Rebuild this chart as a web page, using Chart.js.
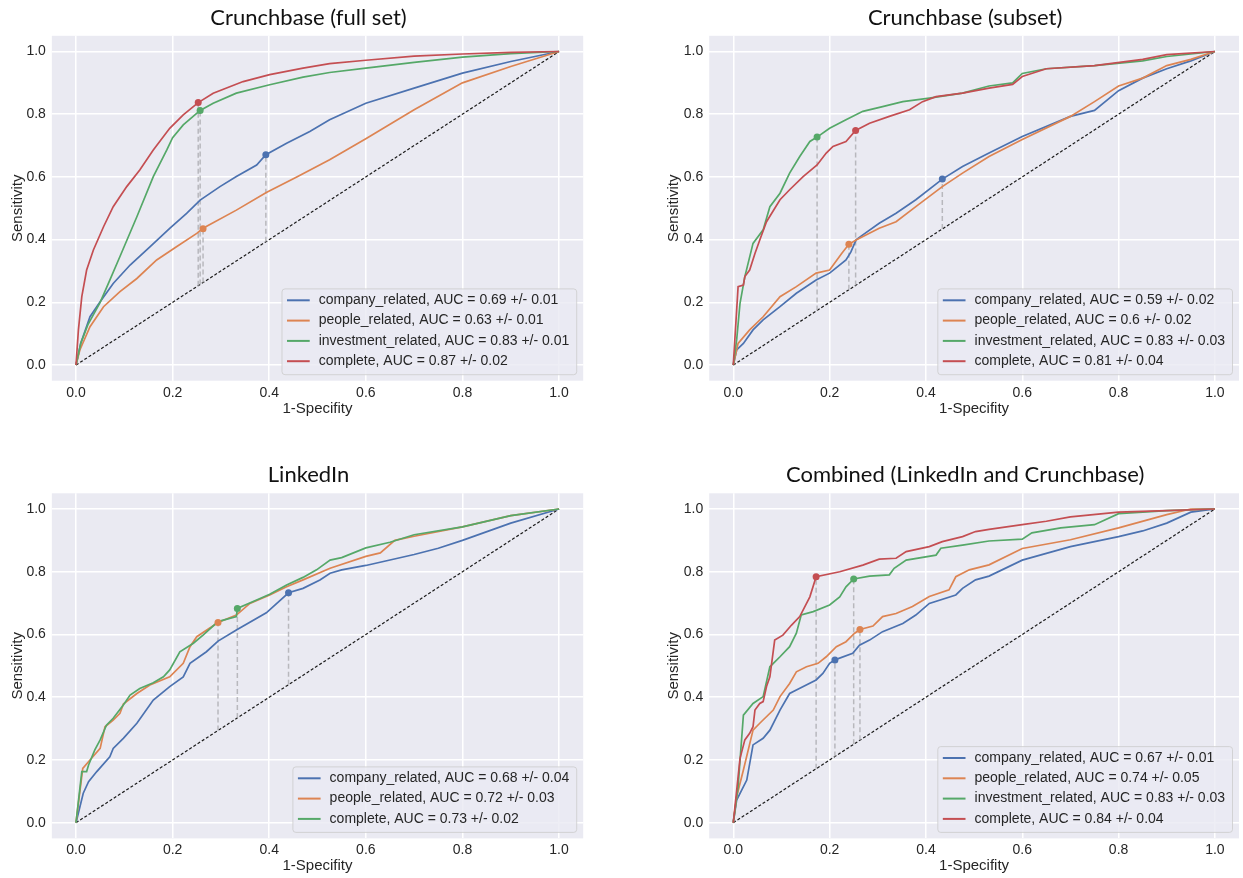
<!DOCTYPE html>
<html>
<head>
<meta charset="utf-8">
<title>ROC curves</title>
<script src="https://cdn.jsdelivr.net/npm/chart.js@4/dist/chart.umd.min.js"></script>
<style>
  body { margin: 0; background: #fff; }
  #wrap { position: relative; width: 1243px; height: 878px; }
  #wrap canvas { position: absolute; }
</style>
</head>
<body>
<div id="wrap">
  <canvas id="cb-full" width="621" height="440" style="left:0;top:0"></canvas>
  <canvas id="cb-subset" width="622" height="440" style="left:621px;top:0"></canvas>
  <canvas id="linkedin" width="621" height="438" style="left:0;top:440px"></canvas>
  <canvas id="combined" width="622" height="438" style="left:621px;top:440px"></canvas>
</div>
<script>
// Axis ticks shared by every panel
const TICKS = [0, 0.2, 0.4, 0.6, 0.8, 1.0];
const DIAGONAL = [[0, 0], [1, 1]];

// ---- Crunchbase (full set) ----  points are [1-specificity, sensitivity]
const cbFullTitle = 'Crunchbase (full set)';
const cbFullCompany = [[0,0],[0.01,0.07],[0.029,0.154],[0.05,0.202],[0.077,0.26],[0.112,0.319],[0.153,0.377],[0.194,0.436],[0.229,0.484],[0.257,0.526],[0.298,0.569],[0.332,0.601],[0.374,0.638],[0.393,0.671],[0.436,0.707],[0.484,0.745],[0.525,0.782],[0.6,0.835],[0.7,0.883],[0.8,0.931],[0.9,0.968],[1,1]];
const cbFullPeople = [[0,0],[0.008,0.048],[0.029,0.122],[0.057,0.186],[0.091,0.234],[0.126,0.276],[0.167,0.335],[0.208,0.377],[0.25,0.42],[0.263,0.436],[0.332,0.494],[0.394,0.55],[0.457,0.6],[0.525,0.655],[0.6,0.722],[0.7,0.814],[0.8,0.9],[0.9,0.952],[1,1]];
const cbFullInvestment = [[0,0],[0.01,0.07],[0.025,0.13],[0.05,0.2],[0.07,0.271],[0.091,0.346],[0.126,0.473],[0.16,0.601],[0.188,0.686],[0.2,0.725],[0.222,0.766],[0.257,0.812],[0.284,0.835],[0.332,0.867],[0.401,0.894],[0.47,0.918],[0.525,0.933],[0.6,0.947],[0.7,0.965],[0.8,0.982],[0.9,0.993],[1,1]];
const cbFullComplete = [[0,0],[0.005,0.112],[0.012,0.218],[0.022,0.303],[0.036,0.367],[0.057,0.441],[0.077,0.505],[0.105,0.569],[0.132,0.622],[0.16,0.686],[0.194,0.755],[0.222,0.798],[0.253,0.837],[0.284,0.867],[0.346,0.904],[0.401,0.926],[0.47,0.947],[0.525,0.961],[0.6,0.972],[0.7,0.985],[0.8,0.992],[0.9,0.997],[1,1]];
const cbFullAuc = ['0.69 +/- 0.01', '0.63 +/- 0.01', '0.83 +/- 0.01', '0.87 +/- 0.02'];
const cbFullCutoffs = [[0.393,0.671],[0.263,0.435],[0.257,0.812],[0.253,0.837]];

// ---- Crunchbase (subset) ----
const cbSubTitle = 'Crunchbase (subset)';
const cbSubCompany = [[0,0],[0.007,0.048],[0.021,0.069],[0.041,0.112],[0.062,0.144],[0.097,0.186],[0.131,0.229],[0.172,0.271],[0.2,0.293],[0.234,0.335],[0.244,0.36],[0.255,0.399],[0.269,0.415],[0.303,0.452],[0.338,0.484],[0.379,0.527],[0.434,0.593],[0.476,0.633],[0.531,0.676],[0.6,0.729],[0.7,0.793],[0.75,0.812],[0.8,0.875],[0.85,0.915],[0.9,0.945],[0.95,0.97],[1,1]];
const cbSubPeople = [[0,0],[0.01,0.069],[0.034,0.112],[0.062,0.154],[0.097,0.218],[0.131,0.25],[0.172,0.293],[0.2,0.303],[0.225,0.356],[0.24,0.385],[0.255,0.399],[0.303,0.436],[0.338,0.457],[0.379,0.505],[0.434,0.569],[0.476,0.612],[0.531,0.665],[0.6,0.719],[0.7,0.793],[0.75,0.84],[0.8,0.89],[0.85,0.915],[0.9,0.955],[0.95,0.975],[1,1]];
const cbSubInvestment = [[0,0],[0.007,0.08],[0.014,0.197],[0.024,0.282],[0.041,0.388],[0.062,0.431],[0.076,0.505],[0.097,0.548],[0.117,0.612],[0.138,0.665],[0.159,0.713],[0.174,0.727],[0.2,0.755],[0.234,0.782],[0.269,0.809],[0.31,0.824],[0.352,0.84],[0.407,0.851],[0.476,0.867],[0.531,0.89],[0.58,0.9],[0.6,0.93],[0.65,0.945],[0.75,0.955],[0.85,0.97],[0.9,0.984],[1,1]];
const cbSubComplete = [[0,0],[0.01,0.25],[0.021,0.255],[0.024,0.282],[0.034,0.303],[0.045,0.356],[0.055,0.399],[0.069,0.457],[0.097,0.527],[0.117,0.559],[0.145,0.601],[0.174,0.638],[0.193,0.676],[0.207,0.697],[0.234,0.713],[0.254,0.748],[0.283,0.771],[0.324,0.793],[0.366,0.814],[0.393,0.84],[0.421,0.856],[0.476,0.867],[0.531,0.883],[0.58,0.895],[0.6,0.92],[0.65,0.945],[0.75,0.955],[0.85,0.975],[0.9,0.99],[1,1]];
const cbSubAuc = ['0.59 +/- 0.02', '0.6 +/- 0.02', '0.83 +/- 0.03', '0.81 +/- 0.04'];
const cbSubCutoffs = [[0.434,0.593],[0.24,0.385],[0.174,0.727],[0.254,0.748]];

// ---- LinkedIn ----
const liTitle = 'LinkedIn';
const liCompany = [[0,0],[0.015,0.094],[0.026,0.131],[0.043,0.163],[0.07,0.21],[0.077,0.237],[0.098,0.269],[0.126,0.317],[0.16,0.391],[0.194,0.434],[0.222,0.465],[0.236,0.508],[0.27,0.545],[0.294,0.579],[0.332,0.614],[0.394,0.669],[0.44,0.733],[0.47,0.747],[0.505,0.774],[0.526,0.795],[0.55,0.806],[0.6,0.82],[0.7,0.855],[0.75,0.875],[0.8,0.9],[0.9,0.955],[1,1]];
const liPeople = [[0,0],[0.014,0.173],[0.029,0.2],[0.05,0.237],[0.06,0.306],[0.077,0.327],[0.091,0.349],[0.098,0.378],[0.126,0.412],[0.153,0.439],[0.194,0.465],[0.222,0.508],[0.236,0.561],[0.25,0.593],[0.294,0.638],[0.332,0.662],[0.36,0.699],[0.401,0.726],[0.436,0.752],[0.47,0.774],[0.526,0.811],[0.6,0.849],[0.63,0.86],[0.66,0.9],[0.7,0.913],[0.8,0.943],[0.9,0.979],[1,1]];
const liComplete = [[0,0],[0.012,0.163],[0.022,0.163],[0.026,0.184],[0.039,0.232],[0.05,0.264],[0.063,0.311],[0.077,0.333],[0.098,0.375],[0.112,0.407],[0.132,0.428],[0.16,0.446],[0.181,0.465],[0.194,0.487],[0.215,0.545],[0.243,0.572],[0.263,0.598],[0.294,0.641],[0.332,0.657],[0.334,0.683],[0.374,0.71],[0.401,0.728],[0.436,0.758],[0.47,0.782],[0.498,0.806],[0.526,0.837],[0.55,0.845],[0.6,0.876],[0.65,0.894],[0.7,0.918],[0.8,0.943],[0.9,0.979],[1,1]];
const liAuc = ['0.68 +/- 0.04', '0.72 +/- 0.03', '0.73 +/- 0.02'];
const liCutoffs = [[0.44,0.733],[0.294,0.638],[0.334,0.683]];

// ---- Combined (LinkedIn and Crunchbase) ----
const combTitle = 'Combined (LinkedIn and Crunchbase)';
const combCompany = [[0,0],[0.007,0.072],[0.028,0.136],[0.041,0.248],[0.062,0.269],[0.076,0.295],[0.097,0.359],[0.117,0.412],[0.131,0.423],[0.172,0.455],[0.186,0.476],[0.2,0.508],[0.211,0.519],[0.248,0.54],[0.262,0.566],[0.283,0.582],[0.31,0.609],[0.352,0.635],[0.379,0.662],[0.407,0.699],[0.462,0.726],[0.476,0.747],[0.503,0.774],[0.531,0.786],[0.6,0.837],[0.7,0.88],[0.8,0.912],[0.85,0.93],[0.9,0.955],[0.95,0.99],[1,1]];
const combPeople = [[0,0],[0.007,0.083],[0.021,0.168],[0.041,0.295],[0.055,0.317],[0.083,0.359],[0.097,0.402],[0.117,0.444],[0.131,0.481],[0.152,0.497],[0.176,0.508],[0.193,0.529],[0.214,0.561],[0.234,0.577],[0.252,0.604],[0.263,0.616],[0.29,0.627],[0.31,0.657],[0.338,0.667],[0.372,0.689],[0.407,0.721],[0.448,0.742],[0.462,0.784],[0.49,0.806],[0.531,0.822],[0.6,0.874],[0.7,0.902],[0.8,0.94],[0.9,0.982],[0.95,1],[1,1]];
const combInvestment = [[0,0],[0.01,0.115],[0.021,0.343],[0.041,0.38],[0.062,0.402],[0.076,0.497],[0.097,0.529],[0.117,0.561],[0.131,0.604],[0.141,0.662],[0.166,0.673],[0.2,0.694],[0.221,0.72],[0.234,0.752],[0.25,0.777],[0.283,0.786],[0.324,0.79],[0.334,0.811],[0.359,0.837],[0.421,0.853],[0.431,0.875],[0.476,0.885],[0.531,0.898],[0.6,0.904],[0.62,0.924],[0.68,0.94],[0.75,0.95],[0.8,0.985],[0.9,0.995],[1,1]];
const combComplete = [[0,0],[0.014,0.205],[0.024,0.264],[0.034,0.285],[0.041,0.306],[0.045,0.359],[0.055,0.38],[0.062,0.386],[0.069,0.434],[0.076,0.465],[0.086,0.582],[0.103,0.598],[0.121,0.63],[0.138,0.657],[0.159,0.72],[0.172,0.784],[0.221,0.8],[0.269,0.821],[0.303,0.84],[0.338,0.843],[0.359,0.864],[0.407,0.88],[0.434,0.896],[0.476,0.912],[0.503,0.928],[0.531,0.935],[0.6,0.95],[0.65,0.961],[0.7,0.975],[0.8,0.99],[0.9,0.995],[1,1]];
const combAuc = ['0.67 +/- 0.01', '0.74 +/- 0.05', '0.83 +/- 0.03', '0.84 +/- 0.04'];
const combCutoffs = [[0.211,0.519],[0.263,0.616],[0.25,0.777],[0.172,0.784]];

// seaborn "deep" palette
const BLUE = '#4c72b0', ORANGE = '#dd8452', GREEN = '#55a868', RED = '#c44e52';
const TEXT = '#262626';
const TICK_FONT = { family: '"Liberation Sans", Arial, sans-serif', size: 14 };
const LABEL_FONT = { family: '"Liberation Sans", Arial, sans-serif', size: 15 };

const xy = pts => pts.map(([x, y]) => ({ x, y }));

// Draws plot background, panel title and the in-axes legend box
const panelDecor = {
  id: 'panelDecor',
  beforeDraw(chart) {
    const { ctx, chartArea: a } = chart;
    ctx.save();
    ctx.fillStyle = '#eaeaf2';
    ctx.fillRect(a.left, a.top, a.right - a.left, a.bottom - a.top);
    ctx.restore();
  },
  afterDraw(chart, args, opts) {
    const { ctx, chartArea: a } = chart;
    ctx.save();
    ctx.font = '22px Lato, "Open Sans", sans-serif';
    ctx.fillStyle = '#111';
    ctx.textAlign = 'center';
    ctx.textBaseline = 'middle';
    ctx.fillText(opts.title, (a.left + a.right) / 2 - 9, opts.titleY);

    const items = chart.data.datasets.filter(d => d.inLegend);
    ctx.font = '14px "Liberation Sans", Arial, sans-serif';
    const textW = Math.max(...items.map(d => ctx.measureText(d.label).width));
    const rowH = 20.3;
    const boxW = 36.7 + textW + 7.4;
    const boxH = 11.4 + (items.length - 1) * rowH + 13.5;
    const right = a.right - 6.5, bottom = a.bottom - 6;
    const left = right - boxW, top = bottom - boxH;
    ctx.beginPath();
    ctx.roundRect(left, top, boxW, boxH, 3);
    ctx.fillStyle = 'rgba(234,234,242,0.8)';
    ctx.fill();
    ctx.strokeStyle = 'rgba(204,204,204,0.8)';
    ctx.lineWidth = 1;
    ctx.stroke();
    ctx.textAlign = 'left';
    items.forEach((d, i) => {
      const y = top + 11.4 + i * rowH;
      ctx.strokeStyle = d.borderColor;
      ctx.lineWidth = 2;
      ctx.beginPath();
      ctx.moveTo(left + 5, y);
      ctx.lineTo(left + 27.7, y);
      ctx.stroke();
      ctx.fillStyle = TEXT;
      ctx.fillText(d.label, left + 36.7, y);
    });
    ctx.restore();
  },
};

function axis(title, fitSize, isX, tickPad, titlePad) {
  return {
    type: 'linear',
    min: -0.05,
    max: 1.05,
    afterBuildTicks: s => { s.ticks = TICKS.map(v => ({ value: v })); },
    afterFit: s => { if (isX) s.height = fitSize; else s.width = fitSize; },
    ticks: {
      callback: v => v.toFixed(1),
      font: TICK_FONT,
      color: TEXT,
      padding: tickPad,
      autoSkip: false,
      maxRotation: 0,
    },
    grid: { color: '#ffffff', lineWidth: 1.5, drawTicks: false },
    border: { display: false },
    title: {
      display: true,
      text: title,
      font: LABEL_FONT,
      color: TEXT,
      padding: isX ? { top: 0, bottom: titlePad } : { top: titlePad, bottom: 0 },
    },
  };
}

function makePanel(id, geo, title, curves, cutoffs) {
  const datasets = [];
  const n = curves.length;
  curves.forEach((c, i) => {
    const [t, s] = cutoffs[i];
    datasets.push({
      label: c.label, data: xy(c.points), inLegend: true,
      showLine: true, borderColor: c.color, borderWidth: 1.7,
      pointRadius: 0, fill: false, order: 1 + (n - 1 - i) * 0.1,
    });
    // dashed drop from the chosen cut-off down to the chance line
    datasets.push({
      data: xy([[t, t], [t, s]]), showLine: true,
      borderColor: 'rgba(175,175,180,0.85)', borderWidth: 1.5, borderDash: [5, 3],
      pointRadius: 0, order: 2,
    });
    datasets.push({
      data: xy([[t, s]]), pointRadius: 3.5, pointBackgroundColor: c.color,
      pointBorderColor: c.color, pointBorderWidth: 0, order: 0,
    });
  });
  datasets.push({
    data: xy(DIAGONAL), showLine: true, borderColor: '#1a1a1a',
    borderWidth: 1.2, borderDash: [3, 2], pointRadius: 0, order: 3,
  });

  new Chart(document.getElementById(id), {
    type: 'scatter',
    data: { datasets },
    options: {
      responsive: false,
      animation: false,
      events: [],
      layout: { padding: geo.padding },
      plugins: {
        legend: { display: false },
        tooltip: { enabled: false },
        panelDecor: { title, titleY: geo.titleY },
      },
      scales: {
        x: axis('1-Specifity', geo.xHeight, true, geo.xTickPad, geo.xTitlePad),
        y: axis('Sensitivity', geo.yWidth, false, 6, 9),
      },
    },
    plugins: [panelDecor],
  });
}

const names = ['company_related', 'people_related', 'investment_related', 'complete'];
const lbl = (name, auc) => `${name}, AUC = ${auc}`;

const topGeoL = { padding: { left: 0, top: 35.8, right: 37.8, bottom: 0 }, yWidth: 51.85, xHeight: 59.3, xTickPad: 4, xTitlePad: 22, titleY: 18.3 };
const topGeoR = { padding: { left: 35, top: 35.8, right: 2.5, bottom: 0 }, yWidth: 53.2, xHeight: 59.3, xTickPad: 4, xTitlePad: 22, titleY: 18 };
const botGeoL = { padding: { left: 0, top: 53.3, right: 37.8, bottom: 0 }, yWidth: 51.85, xHeight: 39.6, xTickPad: 3.2, xTitlePad: 3, titleY: 35 };
const botGeoR = { padding: { left: 35, top: 53.3, right: 2.5, bottom: 0 }, yWidth: 53.2, xHeight: 39.6, xTickPad: 3.2, xTitlePad: 3, titleY: 35 };

makePanel('cb-full', topGeoL, cbFullTitle, [
  { label: lbl(names[0], cbFullAuc[0]), points: cbFullCompany, color: BLUE },
  { label: lbl(names[1], cbFullAuc[1]), points: cbFullPeople, color: ORANGE },
  { label: lbl(names[2], cbFullAuc[2]), points: cbFullInvestment, color: GREEN },
  { label: lbl(names[3], cbFullAuc[3]), points: cbFullComplete, color: RED },
], cbFullCutoffs);

makePanel('cb-subset', topGeoR, cbSubTitle, [
  { label: lbl(names[0], cbSubAuc[0]), points: cbSubCompany, color: BLUE },
  { label: lbl(names[1], cbSubAuc[1]), points: cbSubPeople, color: ORANGE },
  { label: lbl(names[2], cbSubAuc[2]), points: cbSubInvestment, color: GREEN },
  { label: lbl(names[3], cbSubAuc[3]), points: cbSubComplete, color: RED },
], cbSubCutoffs);

makePanel('linkedin', botGeoL, liTitle, [
  { label: lbl(names[0], liAuc[0]), points: liCompany, color: BLUE },
  { label: lbl(names[1], liAuc[1]), points: liPeople, color: ORANGE },
  { label: lbl(names[3], liAuc[2]), points: liComplete, color: GREEN },
], liCutoffs);

makePanel('combined', botGeoR, combTitle, [
  { label: lbl(names[0], combAuc[0]), points: combCompany, color: BLUE },
  { label: lbl(names[1], combAuc[1]), points: combPeople, color: ORANGE },
  { label: lbl(names[2], combAuc[2]), points: combInvestment, color: GREEN },
  { label: lbl(names[3], combAuc[3]), points: combComplete, color: RED },
], combCutoffs);
</script>
</body>
</html>
